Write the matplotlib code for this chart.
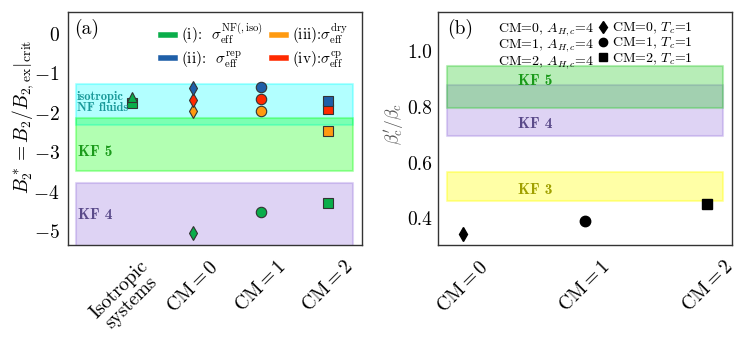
import numpy as np
import matplotlib
matplotlib.use('Agg')
import matplotlib.pyplot as plt
from matplotlib.lines import Line2D

plt.rcParams['font.family'] = 'serif'
plt.rcParams['font.serif'] = ['cmr10']
plt.rcParams['mathtext.fontset'] = 'cm'
plt.rcParams['axes.formatter.use_mathtext'] = True

# Panel (a) data: B2* for each sigma_eff definition
cm_x = [1, 2, 3]
iso_x = 0.1
cm_markers = ['d', 'o', 's']
b2_nf = [-5.05, -4.52, -4.28]
b2_rep = [-1.38, -1.36, -1.70]
b2_cp = [-1.68, -1.66, -1.90]
b2_dry = [-1.97, -1.95, -2.47]
iso_tri = -1.60
iso_sq = -1.75

xtick_labels_a = ['Isotropic\nsystems', r'$\mathrm{CM} = 0$', r'$\mathrm{CM} = 1$', r'$\mathrm{CM} = 2$']

# bands (a)
band_iso = (-2.30, -1.27)
band_kf5_a = (-3.48, -2.14)
band_kf4_a = (-5.6, -3.77)

# Panel (b) data
beta_ratio = [0.343, 0.390, 0.452]
cm_x_b = [0, 1, 2]
xtick_labels_b = [r'$\mathrm{CM} = 0$', r'$\mathrm{CM} = 1$', r'$\mathrm{CM} = 2$']
band_kf5_b = (0.797, 0.946)
band_kf4_b = (0.695, 0.877)
band_kf3_b = (0.464, 0.567)

c_nf = '#0aad4a'
c_rep = '#1f5fa8'
c_dry = '#ff9a10'
c_cp = '#ff2a00'

fig = plt.figure(figsize=(7.48, 3.41), dpi=100)
ax1 = fig.add_axes([0.091, 0.2815, 0.393, 0.6835])
ax2 = fig.add_axes([0.5856, 0.2815, 0.393, 0.6835])

# ---- panel (a)
bx = [-0.73, 3.37]
ax1.fill_between(bx, *band_kf4_a, color='mediumpurple', alpha=0.3, lw=1.5)
ax1.fill_between(bx, *band_iso, color='cyan', alpha=0.3, lw=1.5)
ax1.fill_between(bx, *band_kf5_a, color='lime', alpha=0.3, lw=1.5)

mk = dict(ms=7.5, mec='#333333', mew=0.8, ls='none')
ax1.plot([iso_x], [iso_sq], marker='s', color=c_nf, **mk)
ax1.plot([iso_x], [iso_tri], marker='^', color=c_nf, **mk)
for i in range(3):
    ax1.plot(cm_x[i], b2_nf[i], marker=cm_markers[i], color=c_nf, **mk)
    ax1.plot(cm_x[i], b2_dry[i], marker=cm_markers[i], color=c_dry, **mk)
    ax1.plot(cm_x[i], b2_cp[i], marker=cm_markers[i], color=c_cp, **mk)
    ax1.plot(cm_x[i], b2_rep[i], marker=cm_markers[i], color=c_rep, **mk)

ax1.text(-0.72, -1.75, 'isotropic\nNF fluids', color='#1a9a9a', fontsize=9,
         fontfamily='cmb10', va='center', linespacing=0.85)
ax1.text(-0.70, -3.0, 'KF 5', color='#1a9a1a', fontsize=11, fontfamily='cmb10', va='center')
ax1.text(-0.70, -4.6, 'KF 4', color='#5a4a8a', fontsize=11, fontfamily='cmb10', va='center')
ax1.text(0.02, 0.97, '(a)', transform=ax1.transAxes, fontsize=14, va='top', ha='left')

handles_a = [Line2D([], [], color=c, lw=4) for c in [c_nf, c_rep, c_dry, c_cp]]
labels_a = [r'(i):  $\sigma_{\rm eff}^{\rm NF(,iso)}$', r'(ii):  $\sigma_{\rm eff}^{\rm rep}$',
            r'(iii):$\sigma_{\rm eff}^{\rm dry}$', r'(iv):$\sigma_{\rm eff}^{\rm cp}$']
ax1.legend(handles_a, labels_a, ncol=2, frameon=False, fontsize=11, loc='upper right',
           handlelength=0.9, handletextpad=0.4, columnspacing=0.6, labelspacing=0.2,
           bbox_to_anchor=(1.0, 1.02))

ax1.set_xlim(-0.85, 3.5)
ax1.set_ylim(-5.35, 0.55)
ax1.set_yticks([0, -1, -2, -3, -4, -5])
ax1.set_xticks([0, 1, 2, 3])
ax1.set_xticklabels(xtick_labels_a, rotation=45, ha='center', fontsize=14, linespacing=0.95)
ax1.tick_params(axis='both', length=0, labelsize=14)
ax1.tick_params(axis='x', pad=9)
ax1.tick_params(axis='y', pad=6)
ax1.set_ylabel(r'$B_2^* = B_2/B_{2,\mathrm{ex}}|_{\mathrm{crit}}$', fontsize=14)
ax1.yaxis.set_label_coords(-0.11, 0.55)

# ---- panel (b)
bx2 = [-0.13, 2.13]
ax2.fill_between(bx2, *band_kf4_b, color='mediumpurple', alpha=0.3, lw=1.5)
ax2.fill_between(bx2, *band_kf5_b, color='limegreen', alpha=0.35, lw=1.5)
ax2.fill_between(bx2, *band_kf3_b, color='yellow', alpha=0.35, lw=1.5)

for i in range(3):
    ax2.plot(cm_x_b[i], beta_ratio[i], marker=cm_markers[i], color='black', ms=7.5, ls='none')

ax2.text(0.45, 0.893, 'KF 5', color='#1a9a1a', fontsize=11, fontfamily='cmb10', va='center')
ax2.text(0.45, 0.737, 'KF 4', color='#5a4a8a', fontsize=11, fontfamily='cmb10', va='center')
ax2.text(0.45, 0.502, 'KF 3', color='#a0a000', fontsize=11, fontfamily='cmb10', va='center')
ax2.text(0.03, 0.97, '(b)', transform=ax2.transAxes, fontsize=14, va='top', ha='left')

handles_b = [Line2D([], [], ls='none') for i in range(3)]
handles_b += [Line2D([], [], ls='none', marker=m, color='black', ms=6) for m in cm_markers]
labels_b = [r'CM=0, $A_{H,c}$=4', r'CM=1, $A_{H,c}$=4', r'CM=2, $A_{H,c}$=4',
            r'CM=0, $T_c$=1', r'CM=1, $T_c$=1', r'CM=2, $T_c$=1']
ax2.legend(handles_b, labels_b, ncol=2, frameon=False, fontsize=10, loc='upper right',
           handlelength=0.6, handletextpad=0.4, columnspacing=0.3, labelspacing=0.0,
           bbox_to_anchor=(0.91, 1.015))

ax2.set_xlim(-0.2, 2.2)
ax2.set_ylim(0.305, 1.14)
ax2.set_yticks([0.4, 0.6, 0.8, 1.0])
ax2.set_yticklabels(['0.4', '0.6', '0.8', '1.0'])
ax2.set_xticks(cm_x_b)
ax2.set_xticklabels(xtick_labels_b, rotation=45, ha='center', fontsize=14)
ax2.tick_params(axis='both', length=0, labelsize=14)
ax2.tick_params(axis='x', pad=9)
ax2.tick_params(axis='y', pad=4)
ax2.set_ylabel(r"$\beta_c'/\beta_c$", fontsize=12.5, color='#555555')
ax2.yaxis.set_label_coords(-0.11, 0.52)

for ax in [ax1, ax2]:
    for s in ax.spines.values():
        s.set_color('#333333')
        s.set_linewidth(1.0)

fig.savefig('out.png', dpi=100)
